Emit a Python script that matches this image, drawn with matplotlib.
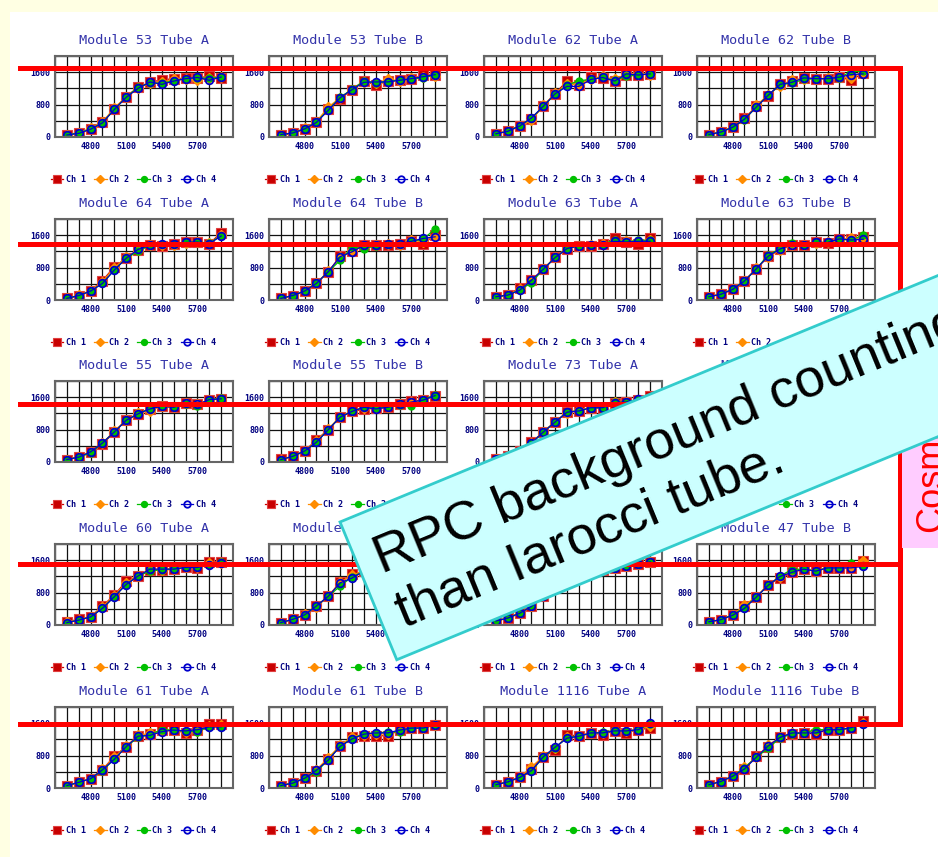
import numpy as np
import matplotlib
matplotlib.use("Agg")
import matplotlib.pyplot as plt
from matplotlib.patches import Polygon, Rectangle
from matplotlib.lines import Line2D

# --- data: counting rate vs. high voltage, 4 channels per tube ---

hv = [4600, 4700, 4800, 4900, 5000, 5100, 5200, 5300, 5400, 5500, 5600, 5700, 5800, 5900]

m53a = [[60, 100, 200, 360, 690, 1000, 1230, 1350, 1410, 1440, 1450, 1460, 1500, 1460],
        [60, 110, 210, 370, 720, 990, 1210, 1340, 1350, 1420, 1430, 1400, 1460, 1470],
        [50, 100, 200, 350, 680, 980, 1230, 1330, 1330, 1390, 1440, 1460, 1450, 1480],
        [50, 90, 190, 350, 680, 980, 1200, 1360, 1300, 1380, 1440, 1470, 1400, 1480]]
m53b = [[40, 90, 200, 370, 680, 950, 1170, 1390, 1280, 1380, 1400, 1440, 1520, 1540],
        [50, 110, 210, 380, 740, 970, 1170, 1370, 1330, 1420, 1390, 1450, 1480, 1510],
        [60, 100, 200, 370, 670, 980, 1180, 1380, 1340, 1370, 1410, 1430, 1460, 1540],
        [60, 100, 200, 360, 660, 970, 1170, 1350, 1360, 1360, 1400, 1440, 1490, 1540]]
m62a = [[80, 140, 270, 440, 760, 1070, 1390, 1290, 1480, 1450, 1390, 1520, 1530, 1560],
        [70, 150, 260, 410, 780, 1080, 1300, 1300, 1440, 1500, 1420, 1560, 1560, 1540],
        [80, 140, 280, 460, 760, 1060, 1280, 1390, 1420, 1470, 1400, 1500, 1530, 1560],
        [80, 140, 270, 470, 760, 1070, 1250, 1250, 1420, 1470, 1380, 1560, 1530, 1560]]
m62b = [[60, 120, 240, 460, 760, 1020, 1300, 1380, 1460, 1440, 1440, 1480, 1400, 1580],
        [60, 130, 250, 440, 780, 1040, 1270, 1400, 1440, 1440, 1450, 1480, 1460, 1600],
        [60, 120, 240, 430, 740, 1030, 1290, 1330, 1420, 1440, 1440, 1460, 1620, 1620],
        [60, 120, 240, 440, 740, 1030, 1300, 1350, 1460, 1440, 1440, 1480, 1540, 1560]]
m64a = [[40, 110, 230, 480, 820, 1030, 1240, 1350, 1330, 1380, 1430, 1430, 1390, 1660],
        [40, 120, 230, 450, 800, 1050, 1230, 1360, 1370, 1360, 1410, 1420, 1400, 1600],
        [40, 110, 220, 410, 740, 1030, 1200, 1350, 1380, 1380, 1420, 1440, 1400, 1590],
        [40, 110, 220, 410, 740, 1030, 1250, 1350, 1380, 1380, 1420, 1430, 1390, 1580]]
m64b = [[40, 110, 220, 410, 700, 1080, 1210, 1350, 1370, 1370, 1390, 1460, 1390, 1600],
        [40, 110, 220, 420, 710, 1050, 1230, 1320, 1350, 1390, 1360, 1470, 1440, 1580],
        [40, 110, 220, 410, 700, 980, 1300, 1270, 1330, 1380, 1380, 1450, 1500, 1760],
        [40, 110, 220, 410, 700, 1070, 1190, 1350, 1350, 1380, 1380, 1450, 1520, 1560]]
m63a = [[80, 120, 300, 490, 760, 1050, 1270, 1340, 1340, 1380, 1530, 1440, 1380, 1530],
        [80, 130, 260, 470, 770, 1060, 1290, 1330, 1360, 1390, 1460, 1460, 1460, 1490],
        [70, 130, 240, 430, 760, 1050, 1270, 1340, 1350, 1370, 1490, 1430, 1480, 1470],
        [80, 120, 240, 490, 760, 1050, 1270, 1340, 1350, 1370, 1450, 1430, 1450, 1450]]
m63b = [[80, 140, 260, 470, 770, 1080, 1260, 1370, 1350, 1430, 1400, 1500, 1510, 1550],
        [80, 150, 260, 480, 780, 1060, 1230, 1350, 1370, 1410, 1430, 1480, 1530, 1540],
        [80, 140, 270, 470, 760, 1120, 1260, 1410, 1360, 1420, 1420, 1500, 1480, 1600],
        [80, 140, 260, 470, 770, 1080, 1260, 1360, 1360, 1420, 1420, 1510, 1480, 1500]]
m55a = [[60, 120, 250, 440, 740, 1040, 1190, 1300, 1380, 1350, 1450, 1420, 1540, 1560],
        [60, 120, 250, 470, 760, 1040, 1200, 1270, 1380, 1370, 1460, 1430, 1530, 1560],
        [60, 120, 220, 470, 740, 1030, 1190, 1320, 1380, 1350, 1440, 1380, 1540, 1570],
        [60, 120, 250, 470, 740, 1030, 1190, 1310, 1380, 1350, 1450, 1420, 1540, 1560]]
m55b = [[70, 140, 270, 550, 800, 1110, 1250, 1300, 1330, 1350, 1420, 1500, 1530, 1640],
        [60, 140, 270, 520, 820, 1120, 1250, 1340, 1350, 1350, 1440, 1470, 1530, 1640],
        [60, 140, 270, 490, 800, 1110, 1250, 1350, 1340, 1350, 1400, 1380, 1540, 1660],
        [60, 140, 270, 490, 800, 1110, 1250, 1350, 1310, 1350, 1420, 1480, 1530, 1640]]
m73a = [[80, 150, 260, 490, 740, 990, 1230, 1260, 1340, 1340, 1450, 1470, 1540, 1630],
        [80, 150, 270, 470, 750, 1000, 1220, 1280, 1340, 1350, 1480, 1480, 1530, 1580],
        [80, 140, 260, 460, 740, 990, 1230, 1270, 1330, 1340, 1470, 1490, 1540, 1560],
        [80, 140, 260, 470, 740, 990, 1230, 1260, 1340, 1340, 1460, 1480, 1550, 1580]]
m73b = [[80, 130, 260, 470, 760, 1060, 1250, 1360, 1380, 1400, 1420, 1460, 1490, 1540],
        [80, 140, 270, 480, 770, 1070, 1240, 1350, 1390, 1410, 1430, 1470, 1500, 1550],
        [70, 130, 260, 460, 760, 1050, 1260, 1370, 1380, 1400, 1440, 1450, 1510, 1560],
        [80, 130, 260, 470, 760, 1060, 1250, 1360, 1380, 1400, 1420, 1460, 1490, 1540]]
m60a = [[80, 140, 200, 470, 740, 1080, 1210, 1350, 1350, 1380, 1420, 1400, 1560, 1560],
        [70, 130, 200, 450, 720, 1040, 1220, 1370, 1370, 1390, 1430, 1420, 1520, 1540],
        [60, 120, 200, 410, 700, 1000, 1210, 1330, 1370, 1380, 1420, 1420, 1490, 1560],
        [60, 120, 200, 410, 700, 1000, 1210, 1380, 1380, 1380, 1420, 1420, 1480, 1520]]
m60b = [[60, 140, 250, 470, 710, 1060, 1250, 1330, 1380, 1400, 1430, 1450, 1480, 1520],
        [60, 140, 260, 440, 720, 1050, 1230, 1340, 1390, 1410, 1440, 1460, 1490, 1530],
        [60, 140, 250, 470, 710, 960, 1190, 1320, 1370, 1400, 1430, 1440, 1480, 1520],
        [60, 140, 250, 470, 710, 1040, 1160, 1330, 1380, 1400, 1430, 1450, 1480, 1520]]
m47a = [[100, 170, 290, 460, 720, 980, 1180, 1280, 1330, 1370, 1400, 1450, 1500, 1560],
        [100, 170, 290, 470, 730, 990, 1190, 1290, 1340, 1380, 1410, 1460, 1510, 1560],
        [100, 170, 290, 460, 720, 980, 1170, 1280, 1330, 1370, 1400, 1450, 1500, 1550],
        [100, 170, 290, 460, 720, 980, 1180, 1280, 1330, 1370, 1400, 1450, 1500, 1560]]
m47b = [[80, 130, 240, 460, 690, 1000, 1150, 1300, 1380, 1330, 1410, 1410, 1410, 1570],
        [80, 130, 240, 490, 700, 990, 1180, 1330, 1390, 1340, 1420, 1420, 1430, 1570],
        [80, 130, 250, 430, 690, 980, 1210, 1370, 1380, 1330, 1410, 1410, 1530, 1450],
        [80, 130, 240, 410, 690, 980, 1200, 1300, 1380, 1330, 1410, 1410, 1410, 1450]]
m61a = [[60, 140, 230, 450, 790, 1020, 1280, 1330, 1420, 1430, 1360, 1430, 1570, 1590],
        [60, 140, 230, 460, 760, 1030, 1300, 1350, 1410, 1430, 1390, 1410, 1540, 1560],
        [60, 140, 230, 430, 710, 1020, 1250, 1320, 1440, 1430, 1400, 1390, 1510, 1510],
        [60, 140, 230, 450, 710, 1020, 1280, 1300, 1390, 1430, 1410, 1440, 1510, 1510]]
m61b = [[60, 120, 240, 430, 720, 1040, 1250, 1290, 1290, 1290, 1430, 1480, 1480, 1560],
        [60, 130, 250, 450, 750, 1050, 1270, 1320, 1330, 1340, 1420, 1480, 1490, 1560],
        [60, 120, 240, 400, 700, 1030, 1220, 1340, 1360, 1380, 1390, 1480, 1480, 1560],
        [60, 120, 240, 440, 690, 1030, 1210, 1330, 1360, 1360, 1430, 1480, 1480, 1560]]
m1116a = [[80, 150, 260, 460, 770, 940, 1320, 1280, 1360, 1320, 1410, 1370, 1440, 1480],
          [80, 150, 260, 520, 780, 1000, 1250, 1290, 1360, 1350, 1420, 1400, 1460, 1540],
          [80, 150, 260, 420, 760, 1000, 1240, 1280, 1350, 1380, 1420, 1400, 1440, 1580],
          [80, 150, 260, 430, 770, 1010, 1230, 1280, 1360, 1360, 1410, 1410, 1440, 1610]]
m1116b = [[80, 160, 290, 480, 780, 1020, 1250, 1340, 1360, 1330, 1440, 1440, 1490, 1660],
          [80, 160, 290, 510, 760, 1060, 1250, 1360, 1370, 1420, 1450, 1440, 1500, 1600],
          [80, 160, 290, 500, 760, 980, 1240, 1330, 1360, 1440, 1440, 1420, 1490, 1590],
          [80, 160, 290, 470, 760, 1040, 1250, 1360, 1360, 1360, 1440, 1440, 1490, 1590]]

panels = [
    ("Module 53 Tube A", m53a), ("Module 53 Tube B", m53b),
    ("Module 62 Tube A", m62a), ("Module 62 Tube B", m62b),
    ("Module 64 Tube A", m64a), ("Module 64 Tube B", m64b),
    ("Module 63 Tube A", m63a), ("Module 63 Tube B", m63b),
    ("Module 55 Tube A", m55a), ("Module 55 Tube B", m55b),
    ("Module 73 Tube A", m73a), ("Module 73 Tube B", m73b),
    ("Module 60 Tube A", m60a), ("Module 60 Tube B", m60b),
    ("Module 47 Tube A", m47a), ("Module 47 Tube B", m47b),
    ("Module 61 Tube A", m61a), ("Module 61 Tube B", m61b),
    ("Module 1116 Tube A", m1116a), ("Module 1116 Tube B", m1116b),
]
channels = ["Ch 1", "Ch 2", "Ch 3", "Ch 4"]
overlay_text = "RPC background counting\nthan Iarocci tube."
side_text = "Cosmic"

# --- styles ---
ch_styles = [
    dict(color="#C80000", marker="s", ms=6.5, mfc="#C80000", mec="#E04040", mew=0.8),
    dict(color="#FF8C00", marker="D", ms=5, mfc="#FF8C00", mec="#FF8C00"),
    dict(color="#00C000", marker="o", ms=5, mfc="#00C000", mec="#00C000"),
    dict(color="#0000CC", marker="o", ms=5.5, mfc="none", mec="#0000CC", mew=1.3),
]
NAVY = "#000080"
MONO = "DejaVu Sans Mono"

W, H = 938, 857


def fx(x):
    return x / W


def fy(y):
    return 1 - y / H


fig = plt.figure(figsize=(W / 100, H / 100), dpi=100)
fig.patch.set_facecolor("#FFFFE3")
fig.add_artist(Rectangle((fx(10), 0), 1, fy(12), transform=fig.transFigure,
                         facecolor="white", edgecolor="none", zorder=0))

lefts = [55, 269, 484, 697]
tops = [56, 219, 381, 544, 707]
pw, ph = 178, 81

for i, (title, data) in enumerate(panels):
    r, c = divmod(i, 4)
    ax = fig.add_axes([fx(lefts[c]), fy(tops[r] + ph), pw / W, ph / H])
    for vals, st, lab in zip(data, ch_styles, channels):
        ax.plot(hv, vals, lw=0.9, label=lab, **st)
    ax.set_xlim(4500, 6000)
    ax.set_ylim(0, 2000)
    ax.set_xticks([4800, 5100, 5400, 5700])
    ax.set_xticks(np.arange(4500, 6001, 100), minor=True)
    ax.set_yticks([0, 800, 1600])
    ax.set_yticks([400, 1200, 2000], minor=True)
    ax.grid(True, which="both", color="#111111", lw=0.9)
    ax.set_axisbelow(True)
    ax.tick_params(which="both", length=0, pad=3.5, labelsize=6, labelcolor=NAVY)
    for lab in ax.get_xticklabels() + ax.get_yticklabels():
        lab.set_fontfamily(MONO)
        lab.set_fontweight("bold")
    for sp in ax.spines.values():
        sp.set_color("#666666")
        sp.set_linewidth(1.5)
    ax.set_title(title, fontsize=9.7, color="#3333AA", family=MONO, pad=8.5)
    ax.legend(loc="center", bbox_to_anchor=(0.44, -0.52), ncol=4, frameon=False,
              prop=dict(family=MONO, size=6, weight="bold"), labelcolor=NAVY,
              handlelength=1.5, handletextpad=0.3, columnspacing=1.0,
              borderpad=0, borderaxespad=0, markerscale=0.85)

# --- red guide lines ---
red_rows = [68, 244, 404, 564, 724]
for y in red_rows:
    fig.add_artist(Line2D([fx(20), fx(900)], [fy(y), fy(y)], transform=fig.transFigure,
                          color="#FF0000", lw=3.6, solid_capstyle="projecting", zorder=5))
fig.add_artist(Line2D([fx(900), fx(900)], [fy(red_rows[0]), fy(red_rows[-1])],
                      transform=fig.transFigure, color="#FF0000", lw=3.6,
                      solid_capstyle="projecting", zorder=5))

# --- pink side box ---
fig.add_artist(Rectangle((fx(902), fy(548)), 0.2, (548 - 380) / H, transform=fig.transFigure,
                         facecolor="#FFCCFF", edgecolor="none", zorder=6))
fig.text(fx(941), fy(532), side_text, rotation=90, rotation_mode="anchor",
         ha="left", va="baseline", fontsize=26, family="Liberation Sans",
         color="#FF0000", zorder=7)

# --- rotated cyan text box ---
ang = np.deg2rad(22.4)
u = np.array([np.cos(ang), -np.sin(ang)])
n = np.array([np.sin(ang), np.cos(ang)])
p0 = np.array([340.0, 522.0])
p1 = p0 + 149 * n
corners = [p0, p0 + 900 * u, p1 + 900 * u, p1]
fig.add_artist(Polygon([(fx(x), fy(y)) for x, y in corners], closed=True,
                       transform=fig.transFigure, facecolor="#CCFFFF",
                       edgecolor="#33CCCC", lw=2, zorder=8))
# anchor = baseline start of the last line (matplotlib aligns multi-line baseline there)
anchor = np.array([376.0, 560.0]) + 65 * n
fig.text(fx(anchor[0]), fy(anchor[1]), overlay_text, rotation=22.4, rotation_mode="anchor",
         ha="left", va="baseline", fontsize=39, family="Liberation Sans",
         color="black", linespacing=1.2, zorder=9)

fig.savefig("out.png", dpi=100)
